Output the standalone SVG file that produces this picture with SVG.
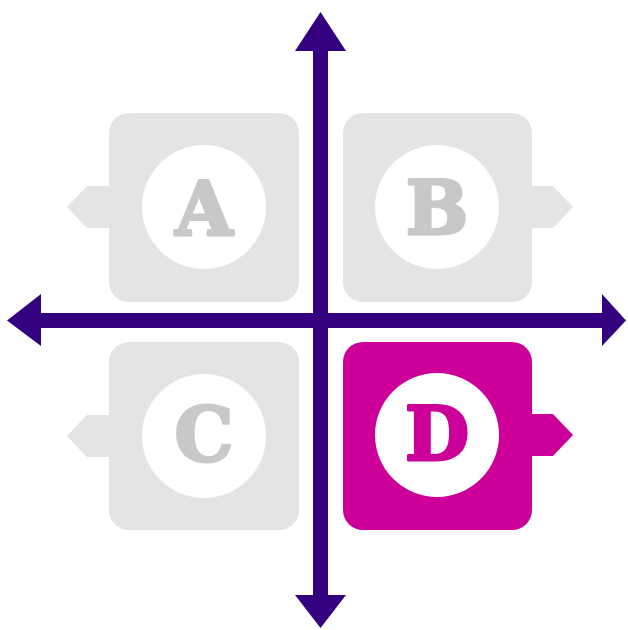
<svg xmlns="http://www.w3.org/2000/svg" width="628" height="630" viewBox="0 0 628 630">
  <style>
    .box { fill: #e4e4e4; }
    .tab { fill: #e4e4e4; }
    .boxOn { fill: #cc0099; }
    .tabOn { fill: #cc0099; }
    .disc { fill: #ffffff; }
    .lbl { font-family: "DejaVu Serif", "Liberation Serif", serif; font-weight: bold; font-size: 74px; text-anchor: middle; fill: #c8c8c8; stroke: #c8c8c8; stroke-width: 3; stroke-linejoin: round; }
    .lblOn { fill: #cc0099; stroke: #cc0099; }
    .axis { fill: #330080; }
  </style>
  <rect width="628" height="630" fill="#ffffff"/>
  <g id="node-A">
    <polygon class="tab" points="111,186 87,186 67,207 87,228 111,228"/>
    <rect class="box" x="109" y="113" width="190" height="189" rx="20" ry="20"/>
    <circle class="disc" cx="204" cy="207" r="62"/>
    <text class="lbl" x="204" y="235">A</text>
  </g>
  <g id="node-B">
    <polygon class="tab" points="530,186 553,186 573,207 553,228 530,228"/>
    <rect class="box" x="343" y="113" width="189" height="189" rx="20" ry="20"/>
    <circle class="disc" cx="437" cy="207" r="62"/>
    <text class="lbl" x="437" y="234">B</text>
  </g>
  <g id="node-C">
    <polygon class="tab" points="111,415 87,415 67,436 87,457 111,457"/>
    <rect class="box" x="109" y="342" width="190" height="188" rx="20" ry="20"/>
    <circle class="disc" cx="204" cy="436" r="62"/>
    <text class="lbl" x="204" y="461">C</text>
  </g>
  <g id="node-D">
    <polygon class="tabOn" points="530,414 553,414 573,435 553,456 530,456"/>
    <rect class="boxOn" x="343" y="342" width="189" height="188" rx="20" ry="20"/>
    <circle class="disc" cx="437" cy="435" r="62"/>
    <text class="lbl lblOn" x="437" y="460">D</text>
  </g>
  <g id="connectors">
    <rect class="axis" x="313" y="50" width="15" height="546"/>
    <polygon class="axis" points="320.5,12 346,51 295,51"/>
    <polygon class="axis" points="320.5,628 346,595 295,595"/>
    <rect class="axis" x="40" y="313" width="563" height="15"/>
    <polygon class="axis" points="7,320.5 41,294 41,346"/>
    <polygon class="axis" points="626,320.5 602,294 602,346"/>
  </g>
</svg>
